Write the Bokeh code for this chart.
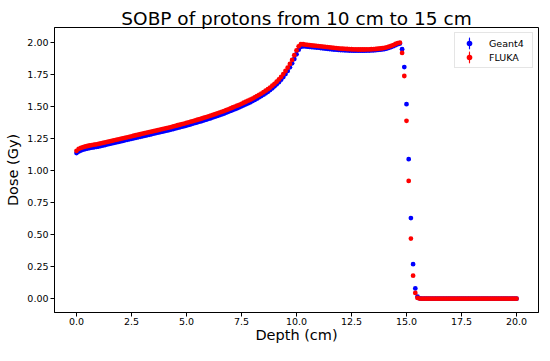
from bokeh.plotting import figure
from bokeh.models import (ColumnDataSource, Legend, LegendItem, FixedTicker,
                          NumeralTickFormatter, Range1d)
from bokeh.embed import file_html
from bokeh.resources import INLINE

# ---- data ----
depth = [round(0.1 * i, 1) for i in range(201)]  # 0.0 ... 20.0 cm, 0.1 cm bins

geant4 = [
    1.138, 1.150, 1.158, 1.164, 1.169, 1.173, 1.177, 1.180, 1.183, 1.186,
    1.189, 1.193, 1.197, 1.201, 1.205, 1.209, 1.213, 1.217, 1.221, 1.225,
    1.229, 1.233, 1.237, 1.241, 1.245, 1.249, 1.253, 1.257, 1.261, 1.265,
    1.269, 1.273, 1.277, 1.281, 1.285, 1.289, 1.293, 1.297, 1.301, 1.305,
    1.309, 1.313, 1.317, 1.321, 1.326, 1.330, 1.335, 1.339, 1.344, 1.348,
    1.353, 1.358, 1.363, 1.368, 1.373, 1.378, 1.383, 1.388, 1.394, 1.399,
    1.405, 1.410, 1.416, 1.422, 1.428, 1.434, 1.440, 1.446, 1.453, 1.460,
    1.467, 1.474, 1.481, 1.488, 1.495, 1.503, 1.511, 1.519, 1.527, 1.535,
    1.544, 1.553, 1.563, 1.573, 1.583, 1.594, 1.605, 1.617, 1.630, 1.644,
    1.659, 1.675, 1.692, 1.711, 1.732, 1.755, 1.780, 1.808, 1.839, 1.873,
    1.910, 1.946, 1.968, 1.972, 1.971, 1.969, 1.967, 1.965, 1.964, 1.962,
    1.961, 1.959, 1.957, 1.955, 1.953, 1.951, 1.949, 1.947, 1.946, 1.944,
    1.943, 1.942, 1.941, 1.940, 1.939, 1.939, 1.938, 1.938, 1.938, 1.938,
    1.938, 1.938, 1.939, 1.939, 1.940, 1.941, 1.942, 1.944, 1.946, 1.948,
    1.951, 1.955, 1.960, 1.966, 1.973, 1.981, 1.989, 1.994, 1.950, 1.810,
    1.520, 1.090, 0.630, 0.270, 0.080, 0.015, 0.002, 0.0, 0.0, 0.0,
    0.0, 0.0, 0.0, 0.0, 0.0, 0.0, 0.0, 0.0, 0.0, 0.0,
    0.0, 0.0, 0.0, 0.0, 0.0, 0.0, 0.0, 0.0, 0.0, 0.0,
    0.0, 0.0, 0.0, 0.0, 0.0, 0.0, 0.0, 0.0, 0.0, 0.0,
    0.0, 0.0, 0.0, 0.0, 0.0, 0.0, 0.0, 0.0, 0.0, 0.0,
    0.0,
]

fluka = [
    1.155, 1.170, 1.178, 1.184, 1.189, 1.193, 1.197, 1.200, 1.203, 1.206,
    1.209, 1.213, 1.217, 1.221, 1.225, 1.229, 1.233, 1.237, 1.241, 1.245,
    1.249, 1.253, 1.257, 1.261, 1.265, 1.269, 1.273, 1.277, 1.281, 1.285,
    1.289, 1.293, 1.297, 1.301, 1.305, 1.309, 1.313, 1.317, 1.321, 1.325,
    1.329, 1.333, 1.337, 1.341, 1.346, 1.350, 1.355, 1.359, 1.364, 1.368,
    1.373, 1.378, 1.383, 1.388, 1.393, 1.398, 1.403, 1.408, 1.414, 1.419,
    1.425, 1.430, 1.436, 1.442, 1.448, 1.454, 1.460, 1.466, 1.473, 1.480,
    1.487, 1.494, 1.501, 1.508, 1.515, 1.523, 1.531, 1.539, 1.547, 1.555,
    1.564, 1.573, 1.583, 1.593, 1.603, 1.614, 1.625, 1.637, 1.650, 1.664,
    1.679, 1.695, 1.713, 1.733, 1.755, 1.779, 1.805, 1.834, 1.866, 1.902,
    1.940, 1.972, 1.988, 1.988, 1.985, 1.983, 1.981, 1.979, 1.977, 1.976,
    1.974, 1.972, 1.970, 1.968, 1.966, 1.964, 1.962, 1.960, 1.958, 1.956,
    1.954, 1.953, 1.952, 1.951, 1.950, 1.949, 1.948, 1.948, 1.947, 1.947,
    1.947, 1.947, 1.948, 1.948, 1.949, 1.950, 1.951, 1.953, 1.955, 1.957,
    1.960, 1.964, 1.969, 1.975, 1.982, 1.990, 1.997, 2.000, 1.920, 1.740,
    1.390, 0.920, 0.470, 0.180, 0.045, 0.006, 0.001, 0.0, 0.0, 0.0,
    0.0, 0.0, 0.0, 0.0, 0.0, 0.0, 0.0, 0.0, 0.0, 0.0,
    0.0, 0.0, 0.0, 0.0, 0.0, 0.0, 0.0, 0.0, 0.0, 0.0,
    0.0, 0.0, 0.0, 0.0, 0.0, 0.0, 0.0, 0.0, 0.0, 0.0,
    0.0, 0.0, 0.0, 0.0, 0.0, 0.0, 0.0, 0.0, 0.0, 0.0,
    0.0,
]

x_ticks = [0.0, 2.5, 5.0, 7.5, 10.0, 12.5, 15.0, 17.5, 20.0]
y_ticks = [0.0, 0.25, 0.5, 0.75, 1.0, 1.25, 1.5, 1.75, 2.0]

source = ColumnDataSource(data=dict(depth=depth, geant4=geant4, fluka=fluka))

FONT = "DejaVu Sans"

p = figure(width=542, height=345, output_backend="svg", toolbar_location=None,
           x_range=Range1d(-1.0, 21.0), y_range=Range1d(-0.108, 2.119),
           title="SOBP of protons from 10 cm to 15 cm",
           x_axis_label="Depth (cm)", y_axis_label="Dose (Gy)",
           min_border_left=54, min_border_right=4, min_border_top=27,
           min_border_bottom=30)

p.background_fill_color = "white"
p.border_fill_color = "white"
p.outline_line_color = "black"
p.outline_line_width = 1
p.grid.visible = False

p.title.text_font = FONT
p.title.text_font_size = "18.5px"
p.title.text_font_style = "normal"
p.title.text_color = "black"
p.title.align = "center"
p.title.standoff = -3

p.xaxis.ticker = FixedTicker(ticks=x_ticks)
p.yaxis.ticker = FixedTicker(ticks=y_ticks)
p.xaxis.formatter = NumeralTickFormatter(format="0.0")
p.yaxis.formatter = NumeralTickFormatter(format="0.00")

for ax in (p.xaxis, p.yaxis):
    ax.axis_line_color = "black"
    ax.major_tick_line_color = "black"
    ax.major_tick_out = 4
    ax.major_tick_in = 0
    ax.minor_tick_out = 0
    ax.minor_tick_in = 0
    ax.major_label_text_font = FONT
    ax.major_label_text_font_size = "9.5px"
    ax.major_label_text_color = "black"
    ax.major_label_standoff = 2
    ax.axis_label_text_font = FONT
    ax.axis_label_text_font_size = "14.5px"
    ax.axis_label_text_font_style = "normal"
    ax.axis_label_text_color = "black"

p.xaxis.major_label_standoff = 1
p.xaxis.axis_label_standoff = -1
p.yaxis.axis_label_standoff = 3

g_err = p.ellipse(x="depth", y="geant4", width=0.01, width_units="screen",
                  height=0.012, source=source, fill_color=None,
                  line_color="blue", line_width=1.2)
g_pt = p.scatter(x="depth", y="geant4", source=source, marker="circle",
                 size=4.8, fill_color="blue", line_color=None)
f_err = p.ellipse(x="depth", y="fluka", width=0.01, width_units="screen",
                  height=0.012, source=source, fill_color=None,
                  line_color="red", line_width=1.2)
f_pt = p.scatter(x="depth", y="fluka", source=source, marker="circle",
                 size=4.8, fill_color="red", line_color=None)

legend = Legend(items=[LegendItem(label="Geant4", renderers=[g_err, g_pt]),
                       LegendItem(label="FLUKA", renderers=[f_err, f_pt])],
                location="top_right", margin=5, padding=3, spacing=0,
                glyph_width=22, glyph_height=14, label_height=14,
                label_width=40, label_standoff=9,
                label_text_font=FONT, label_text_font_size="9.5px",
                label_text_color="black",
                border_line_color="#cccccc", border_line_width=1,
                background_fill_color="white", background_fill_alpha=0.8)
p.add_layout(legend)

open("out.html", "w").write(file_html(p, INLINE))
